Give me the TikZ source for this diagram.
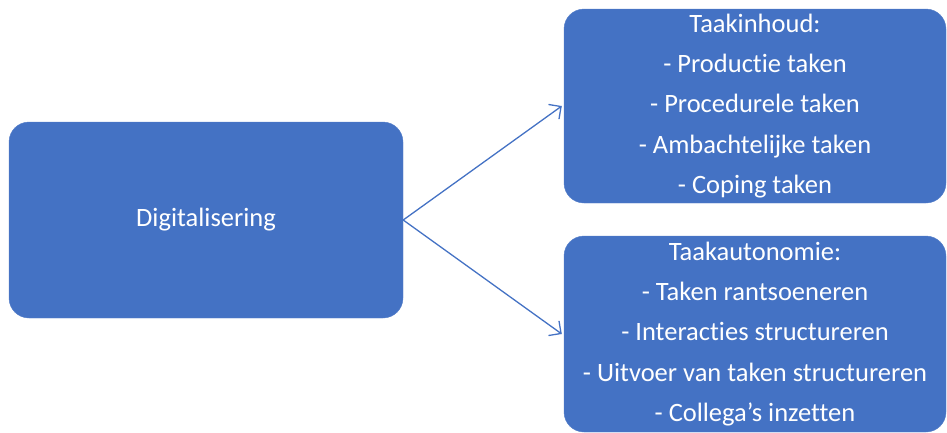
\documentclass[tikz,border=0pt]{standalone}
\usepackage{fontspec}
\setmainfont[Ligatures=NoCommon]{Carlito}
\usetikzlibrary{arrows.meta}
\definecolor{boxblue}{HTML}{4472C4}
\tikzset{
    bluebox/.style={fill=boxblue, draw=boxblue!90!white, rounded corners=20pt, text=white,
        align=center, inner sep=0pt, font=\fontsize{26.5}{40.4}\selectfont},
    link/.style={draw=boxblue, line width=1.3pt, -{Straight Barb[length=9pt,width=18pt,line width=1.3pt]}}
}
\begin{document}
\begin{tikzpicture}[x=1pt,y=-1pt]
            \useasboundingbox (0,0) rectangle (947,432);
            % Coordinates
            \coordinate (D) at (206,220);
            \coordinate (I) at (755,106);
            \coordinate (A) at (755,334);
            % Boxes
            \node[bluebox, minimum width=394pt, minimum height=196pt] (dig) at (D) {Digitalisering};
            \node[bluebox, minimum width=382pt, minimum height=194pt] (inh) at (I)
                {Taakinhoud:\\- Productie taken\\- Procedurele taken\\- Ambachtelijke taken\\- Coping taken};
            \node[bluebox, minimum width=382pt, minimum height=196pt] (aut) at (A)
                {Taakautonomie:\\- Taken rantsoeneren\\- Interacties structureren\\- Uitvoer van taken structureren\\- Collega’s inzetten};

            % draw arrows
            \draw[link] (dig.east) -- ([xshift=-2pt]inh.west);
            \draw[link] (dig.east) -- ([xshift=-2pt]aut.west);
        \end{tikzpicture}
\end{document}
